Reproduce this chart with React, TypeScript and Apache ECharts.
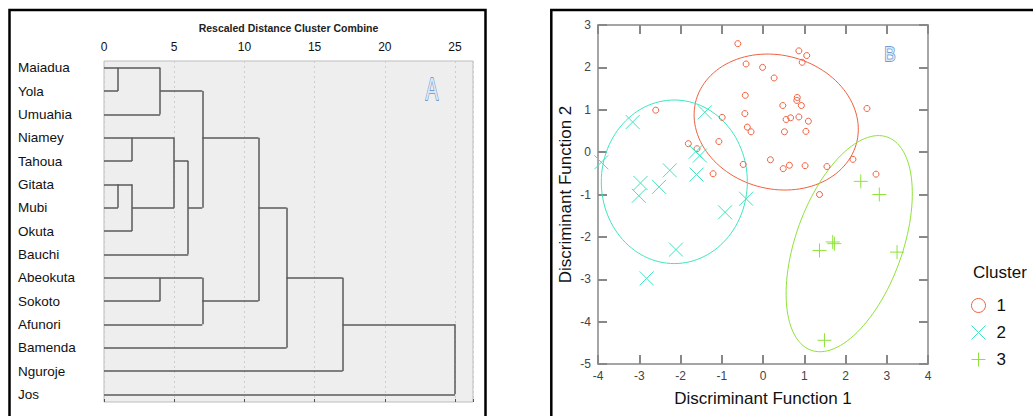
import React, { useEffect, useRef } from "react";
import * as echarts from "echarts";

// ---------- Panel A: dendrogram ----------
const stations = [
  "Maiadua", "Yola", "Umuahia", "Niamey", "Tahoua", "Gitata", "Mubi", "Okuta",
  "Bauchi", "Abeokuta", "Sokoto", "Afunori", "Bamenda", "Nguroje", "Jos",
];
const distanceTicks = [0, 5, 10, 15, 20, 25];
// horizontal links: [row, fromDistance, toDistance]
const horizontalLinks: number[][] = [
  [0, 0, 4], [1, 0, 1], [1, 4, 7], [2, 0, 4], [3, 0, 5], [3, 7, 11],
  [4, 0, 2], [4, 5, 6], [5, 0, 2], [6, 0, 1], [6, 2, 5], [6, 6, 7], [6, 11, 13],
  [7, 0, 2], [8, 0, 6], [9, 0, 7], [9, 13, 17], [10, 0, 4], [10, 7, 11],
  [11, 0, 7], [11, 17, 25], [12, 0, 13], [13, 0, 17], [14, 0, 25],
];
// vertical links: [distance, fromRow, toRow]
const verticalLinks: number[][] = [
  [1, 0, 1], [4, 0, 2], [7, 1, 6], [2, 3, 4], [1, 5, 6], [2, 5, 7], [5, 3, 6],
  [6, 4, 8], [11, 3, 10], [13, 6, 12], [4, 9, 10], [7, 9, 11], [17, 9, 13], [25, 11, 14],
];

// ---------- Panel B: discriminant scatter ----------
const clusterNames = ["1", "2", "3"];
const cluster1: number[][] = [
  [-0.61, 2.56], [0.87, 2.39], [1.06, 2.28], [0.95, 2.12], [-0.41, 2.08], [-0.01, 2.0],
  [0.27, 1.75], [-0.43, 1.34], [0.83, 1.29], [0.82, 1.22], [0.48, 1.1], [0.93, 1.1],
  [2.52, 1.03], [-2.6, 0.99], [-0.44, 0.91], [-0.99, 0.82], [0.87, 0.83], [0.67, 0.81],
  [0.56, 0.77], [1.1, 0.73], [-0.38, 0.59], [-0.29, 0.48], [0.52, 0.48], [1.04, 0.49],
  [-1.07, 0.25], [-1.81, 0.2], [-1.6, 0.08], [0.18, -0.18], [-0.48, -0.29], [0.64, -0.31],
  [0.49, -0.39], [1.02, -0.32], [1.55, -0.34], [2.18, -0.17], [-1.21, -0.51], [2.74, -0.52],
  [1.37, -1.0],
];
const cluster2: number[][] = [
  [-3.16, 0.71], [-1.41, 0.94], [-3.92, -0.24], [-1.63, 0.01], [-1.53, -0.08], [-2.26, -0.43],
  [-1.61, -0.53], [-2.97, -0.73], [-2.52, -0.82], [-3.01, -1.03], [-0.41, -1.1], [-0.92, -1.42],
  [-2.11, -2.3], [-2.82, -2.98],
];
const cluster3: number[][] = [
  [2.37, -0.69], [2.82, -1.0], [1.37, -2.32], [1.69, -2.12], [1.73, -2.16], [3.25, -2.36],
  [1.49, -4.44],
];
// ellipses: [centerX, centerY, semiAxisA, semiAxisB, angleDeg, clusterIndex]
const ellipses: number[][] = [
  [0.32, 0.71, 2.01, 1.58, -13, 0],
  [-2.15, -0.7, 1.77, 1.93, 0, 1],
  [2.09, -2.16, 2.68, 1.29, 69.5, 2],
];

const RED = "#f0603f";
const TEAL = "#3ee6bf";
const GREEN = "#8fe23a";
const COLORS = [RED, TEAL, GREEN];
const FONT = "'Liberation Sans', Arial, sans-serif";
const X_SYMBOL = "path://M0 0L10 10M10 0L0 10";
const PLUS_SYMBOL = "path://M5 0L5 10M0 5L10 5";

export default function App() {
  const ref = useRef<HTMLDivElement>(null);

  useEffect(() => {
    document.body.style.margin = "0";
    const chart = echarts.init(ref.current!, null, { renderer: "svg" });

    const linkData = [
      ...horizontalLinks.map(([r, a, b]) => ({ coords: [[a, r], [b, r]] })),
      ...verticalLinks.map(([d, r0, r1]) => ({ coords: [[d, r0], [d, r1]] })),
    ];

    const option: any = {
      animation: false,
      textStyle: { fontFamily: FONT },
      grid: [
        { left: 104, top: 61, width: 369, height: 341, show: true, backgroundColor: "#eeeeee", borderColor: "#bdbdbd", borderWidth: 1 },
        { left: 104, top: 56, width: 369, height: 350, show: false },
        { left: 598, top: 25, width: 330, height: 339, show: false },
      ],
      xAxis: [
        {
          gridIndex: 0, type: "value", position: "top", min: 0, max: 26.28, interval: 5,
          name: "Rescaled Distance Cluster Combine", nameLocation: "middle", nameGap: 28,
          nameTextStyle: { fontSize: 10.5, fontWeight: "bold", color: "#222", fontFamily: FONT },
          axisLine: { show: false },
          axisTick: { show: true, length: 3, lineStyle: { color: "#555" } },
          axisLabel: {
            fontSize: 12, color: "#111", margin: 8, fontFamily: FONT,
            formatter: (v: number) => (distanceTicks.includes(v) ? String(v) : ""),
          },
          splitLine: { show: true, lineStyle: { color: "#cdcdcd", type: [2, 3] } },
        },
        { gridIndex: 1, type: "value", min: 0, max: 26.28, show: false },
        {
          gridIndex: 2, type: "value", position: "bottom", min: -4, max: 4, interval: 1,
          name: "Discriminant Function 1", nameLocation: "middle", nameGap: 26,
          nameTextStyle: { fontSize: 17, color: "#111", fontFamily: FONT },
          axisLine: { onZero: false, lineStyle: { color: "#888", width: 1.5 } },
          axisTick: { inside: true, length: 9, lineStyle: { color: "#888", width: 2 } },
          axisLabel: { fontSize: 12, color: "#444", margin: 6, fontFamily: FONT },
          splitLine: { show: false },
        },
        {
          gridIndex: 2, type: "value", position: "top", min: -4, max: 4, interval: 1,
          axisLine: { onZero: false, lineStyle: { color: "#888", width: 1.5 } },
          axisTick: { inside: true, length: 9, lineStyle: { color: "#888", width: 2 } },
          axisLabel: { show: false },
          splitLine: { show: false },
        },
      ],
      yAxis: [
        { gridIndex: 0, type: "value", min: 0, max: 1, show: false },
        {
          gridIndex: 1, type: "category", data: stations, inverse: true, boundaryGap: true,
          axisLine: { show: false }, axisTick: { show: false },
          axisLabel: { align: "left", margin: 86, fontSize: 13.5, color: "#111", fontFamily: FONT, padding: [7, 0, 0, 0] },
          splitLine: { show: false },
        },
        {
          gridIndex: 2, type: "value", position: "left", min: -5, max: 3, interval: 1,
          name: "Discriminant Function 2", nameLocation: "middle", nameGap: 24,
          nameTextStyle: { fontSize: 17, color: "#111", fontFamily: FONT },
          axisLine: { onZero: false, lineStyle: { color: "#888", width: 1.5 } },
          axisTick: { inside: true, length: 9, lineStyle: { color: "#888", width: 2 } },
          axisLabel: { fontSize: 12, color: "#444", margin: 7, fontFamily: FONT },
          splitLine: { show: false },
        },
        {
          gridIndex: 2, type: "value", position: "right", min: -5, max: 3, interval: 1,
          axisLine: { onZero: false, lineStyle: { color: "#888", width: 1.5 } },
          axisTick: { inside: true, length: 9, lineStyle: { color: "#888", width: 2 } },
          axisLabel: { show: false },
          splitLine: { show: false },
        },
      ],
      legend: {
        orient: "vertical", left: 966, top: 292, itemWidth: 14, itemHeight: 14, itemGap: 10,
        textStyle: { fontSize: 17, color: "#111", fontFamily: FONT, padding: [0, 0, 0, 6] },
        data: [
          { name: "1", icon: "circle", itemStyle: { color: "transparent", borderColor: RED, borderWidth: 1 } },
          { name: "2", icon: X_SYMBOL, itemStyle: { color: "transparent", borderColor: TEAL, borderWidth: 1 } },
          { name: "3", icon: PLUS_SYMBOL, itemStyle: { color: "transparent", borderColor: GREEN, borderWidth: 1 } },
        ],
      },
      series: [
        {
          type: "lines", coordinateSystem: "cartesian2d", xAxisIndex: 1, yAxisIndex: 1,
          data: linkData, silent: true,
          lineStyle: { color: "#5a5a5a", width: 1.5, opacity: 1 },
        },
        {
          type: "custom", xAxisIndex: 2, yAxisIndex: 2, silent: true,
          data: ellipses,
          renderItem: (_p: any, api: any) => {
            const cx = api.value(0), cy = api.value(1), a = api.value(2), b = api.value(3);
            const ang = (api.value(4) * Math.PI) / 180;
            const col = COLORS[api.value(5)];
            const pts: number[][] = [];
            for (let i = 0; i <= 120; i++) {
              const t = (i / 120) * 2 * Math.PI;
              const dx = a * Math.cos(t), dy = b * Math.sin(t);
              pts.push(api.coord([cx + dx * Math.cos(ang) - dy * Math.sin(ang), cy + dx * Math.sin(ang) + dy * Math.cos(ang)]));
            }
            return { type: "polyline", shape: { points: pts }, style: { fill: "none", stroke: col, lineWidth: 1 } };
          },
        },
        {
          name: clusterNames[0], type: "scatter", xAxisIndex: 2, yAxisIndex: 2, data: cluster1,
          symbol: "circle", symbolSize: 6,
          itemStyle: { color: "transparent", borderColor: RED, borderWidth: 1, opacity: 1 },
        },
        {
          name: clusterNames[1], type: "scatter", xAxisIndex: 2, yAxisIndex: 2, data: cluster2,
          symbol: X_SYMBOL, symbolSize: 14,
          itemStyle: { color: "transparent", borderColor: TEAL, borderWidth: 1, opacity: 1 },
        },
        {
          name: clusterNames[2], type: "scatter", xAxisIndex: 2, yAxisIndex: 2, data: cluster3,
          symbol: PLUS_SYMBOL, symbolSize: 14,
          itemStyle: { color: "transparent", borderColor: GREEN, borderWidth: 1, opacity: 1 },
        },
      ],
      graphic: [
        { type: "rect", shape: { x: 9.5, y: 10, width: 476, height: 430 }, style: { fill: "none", stroke: "#000", lineWidth: 2.5 }, silent: true },
        { type: "rect", shape: { x: 551.3, y: 10, width: 600, height: 430 }, style: { fill: "none", stroke: "#000", lineWidth: 2.5 }, silent: true },
        {
          type: "text", x: 432, y: 89, scaleX: 0.62, silent: true,
          style: { text: "A", x: 0, y: 0, align: "center", verticalAlign: "middle", fontSize: 31, fontFamily: FONT, fill: "#dbe6f6", stroke: "#5b87c6", lineWidth: 1.3 },
        },
        {
          type: "text", x: 890, y: 54, scaleX: 0.85, silent: true,
          style: { text: "B", x: 0, y: 0, align: "center", verticalAlign: "middle", fontSize: 20, fontFamily: FONT, fill: "#dbe6f6", stroke: "#5b87c6", lineWidth: 1.3 },
        },
        {
          type: "text", x: 973, y: 272, silent: true,
          style: { text: "Cluster", x: 0, y: 0, align: "left", verticalAlign: "middle", fontSize: 17, fontFamily: FONT, fill: "#111" },
        },
      ],
    };

    chart.setOption(option);
    return () => chart.dispose();
  }, []);

  return <div ref={ref} style={{ width: 1033, height: 416 }} />;
}
